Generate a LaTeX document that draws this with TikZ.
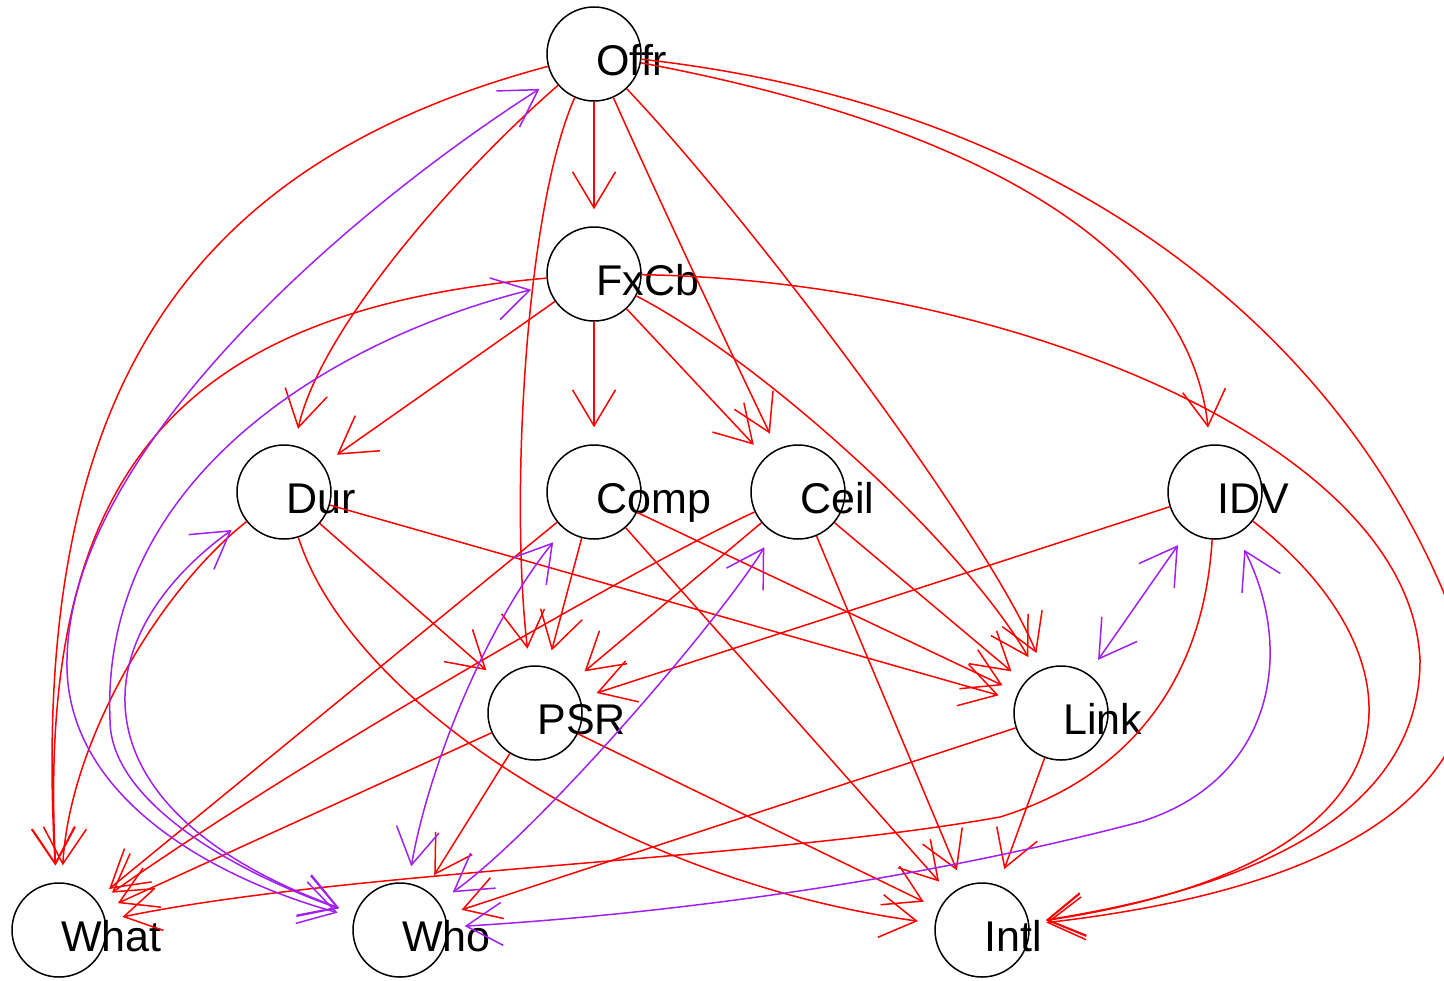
\documentclass[tikz,border=0pt]{standalone}
\usepackage{fontspec}
\setmainfont{Liberation Sans}
\usetikzlibrary{arrows.meta}
\definecolor{rpurple}{HTML}{A020F0}

\begin{document}
\begin{tikzpicture}[x=0.5pt,y=-0.5pt]
\tikzset{
% Two node styles: the circle of a variable and its name beside the centre
var node/.style={circle,draw,line width=0.75pt,minimum size=47pt,inner sep=0pt},
var label/.style={anchor=base west,inner sep=0pt,font=\fontsize{21.5}{26}\selectfont},
% Two edge styles: directed (red) and bidirected (purple)
dir edge/.style={draw=red,line width=0.75pt,-{Straight Barb[length=18pt,width=21.5pt]},shorten >=8.5pt},
bi edge/.style={draw=rpurple,line width=0.75pt,{Straight Barb[length=18pt,width=21.5pt]}-{Straight Barb[length=18pt,width=21.5pt]},shorten >=8.5pt,shorten <=8.5pt}
}
\useasboundingbox (0,0) rectangle (1444,980);

% The variables
\node[var node] (Offr) at (594,54) {};
\node[var node] (FxCb) at (594,274) {};
\node[var node] (Dur) at (284,492) {};
\node[var node] (Comp) at (594,492) {};
\node[var node] (Ceil) at (798,492) {};
\node[var node] (IDV) at (1215,492) {};
\node[var node] (PSR) at (535,713) {};
\node[var node] (Link) at (1061,713) {};
\node[var node] (What) at (59,930) {};
\node[var node] (Who) at (400,930) {};
\node[var node] (Intl) at (982,930) {};

% Their names
\node[var label] (lOffr) at (596,75) {Offr};
\node[var label] (lFxCb) at (596,295) {FxCb};
\node[var label] (lDur) at (286,513) {Dur};
\node[var label] (lComp) at (596,513) {Comp};
\node[var label] (lCeil) at (800,513) {Ceil};
\node[var label] (lIDV) at (1217,513) {IDV};
\node[var label] (lPSR) at (537,734) {PSR};
\node[var label] (lLink) at (1063,734) {Link};
\node[var label] (lWhat) at (61,951) {What};
\node[var label] (lWho) at (402,951) {Who};
\node[var label] (lIntl) at (984,951) {Intl};

% Directed edges
\draw[dir edge] (Offr) -- (FxCb);
\draw[dir edge] (Offr) .. controls (180,165) and (28,400) .. (What);
\draw[dir edge] (Offr) .. controls (455,175) and (320,330) .. (Dur);
\draw[dir edge] (Offr) .. controls (525,210) and (510,500) .. (PSR);
\draw[dir edge] (Offr) .. controls (650,180) and (720,330) .. (Ceil);
\draw[dir edge] (Offr) .. controls (760,230) and (990,540) .. (Link);
\draw[dir edge] (Offr) .. controls (1000,130) and (1190,260) .. (IDV);
\draw[dir edge] (Offr) .. controls (1100,110) and (1380,370) .. (1470,665)
  .. controls (1470,800) and (1330,890) .. (Intl);

\draw[dir edge] (FxCb) -- (Comp);
\draw[dir edge] (FxCb) -- (Dur);
\draw[dir edge] (FxCb) -- (Ceil);
\draw[dir edge] (FxCb) .. controls (180,310) and (35,470) .. (What);
\draw[dir edge] (FxCb) .. controls (760,360) and (960,540) .. (Link);
\draw[dir edge] (FxCb) .. controls (1000,280) and (1410,440) .. (1420,660)
  .. controls (1420,790) and (1300,880) .. (Intl);

\draw[dir edge] (Dur) .. controls (160,590) and (70,740) .. (What);
\draw[dir edge] (Dur) -- (PSR);
\draw[dir edge] (Dur) -- (Link);
\draw[dir edge] (Dur) .. controls (350,700) and (620,880) .. (Intl);

\draw[dir edge] (Comp) -- (PSR);
\draw[dir edge] (Comp) -- (What);
\draw[dir edge] (Comp) -- (Link);
\draw[dir edge] (Comp) -- (Intl);

\draw[dir edge] (Ceil) -- (PSR);
\draw[dir edge] (Ceil) .. controls (650,560) and (300,760) .. (What);
\draw[dir edge] (Ceil) -- (Link);
\draw[dir edge] (Ceil) -- (Intl);

\draw[dir edge] (IDV) -- (PSR);
\draw[dir edge] (IDV) .. controls (1203,690) and (1120,780) .. (1000,817)
  .. controls (760,860) and (350,870) .. (What);
\draw[dir edge] (IDV) .. controls (1420,650) and (1450,860) .. (Intl);

\draw[dir edge] (PSR) -- (What);
\draw[dir edge] (PSR) -- (Who);
\draw[dir edge] (PSR) -- (Intl);

\draw[dir edge] (Link) -- (Who);
\draw[dir edge] (Link) -- (Intl);

% Bidirected edges
\draw[bi edge] (Offr) .. controls (350,210) and (70,450) .. (67,660)
  .. controls (64,800) and (220,880) .. (Who);
\draw[bi edge] (FxCb) .. controls (330,340) and (100,480) .. (110,720)
  .. controls (110,800) and (230,870) .. (Who);
\draw[bi edge] (Dur) .. controls (80,640) and (70,810) .. (Who);
\draw[bi edge] (Comp) .. controls (490,620) and (430,760) .. (Who);
\draw[bi edge] (Ceil) .. controls (720,620) and (540,830) .. (Who);
\draw[bi edge] (IDV) -- (Link);
\draw[bi edge] (IDV) .. controls (1295,650) and (1275,780) .. (1140,822)
  .. controls (900,885) and (650,915) .. (Who);
\end{tikzpicture}
\end{document}
